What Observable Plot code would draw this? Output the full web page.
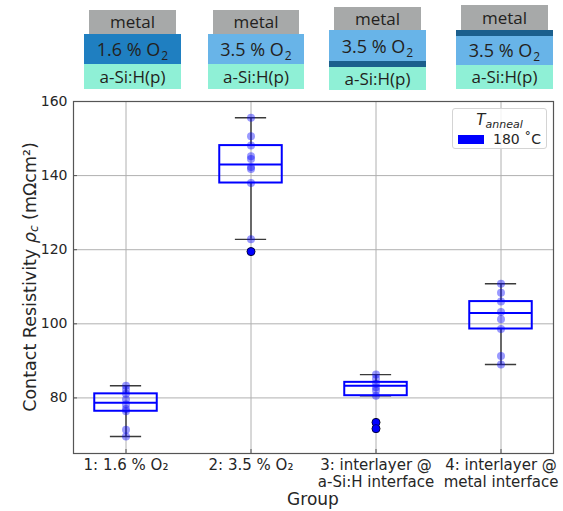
<!DOCTYPE html>
<html><head><meta charset="utf-8">
<script src="https://cdn.jsdelivr.net/npm/d3@7"></script>
<script src="https://cdn.jsdelivr.net/npm/@observablehq/plot@0.6"></script>
<style>
body{margin:0;background:#fff;}
#wrap{position:relative;width:563px;height:511px;overflow:hidden;background:#fff;}
.ly{position:absolute;box-sizing:border-box;display:flex;align-items:center;justify-content:center;font-family:"Open Sans",sans-serif;color:#231f20;font-size:17px;white-space:nowrap;}
.ly.o{font-size:18px;}
.ly sub{font-size:12px;vertical-align:-4px;line-height:0;margin-left:1px;}
#plotbox{position:absolute;left:0;top:90px;}
#legend{position:absolute;left:452px;top:108px;width:95px;height:41px;box-sizing:border-box;border:1px solid #d4d4d4;border-radius:3px;background:rgba(255,255,255,0.85);font-family:"DejaVu Sans",sans-serif;color:#262626;}
#legend .ttl{position:absolute;left:0;right:0;top:2px;text-align:center;font-style:italic;font-size:15px;}
#legend .ttl sub{font-size:11px;vertical-align:-3px;line-height:0;}
#legend .patch{position:absolute;left:5px;top:26px;width:26px;height:9px;background:#0000ff;}
#legend .lab{position:absolute;left:40px;top:22px;font-size:14px;}
</style></head>
<body>
<div id="wrap">
  <div id="schem"></div>
  <div id="plotbox"></div>
  <div id="legend"><div class="ttl">T<sub>anneal</sub></div><div class="patch"></div><div class="lab">180 &#730;C</div></div>
</div>
<script>
// ---- data ----
const groups = [1, 2, 3, 4];
const groupLabels = ["1: 1.6 % O\u2082", "2: 3.5 % O\u2082", "3: interlayer @\na-Si:H interface", "4: interlayer @\nmetal interface"];
const q1 = [76.4, 138.0, 80.6, 98.6];
const median = [78.7, 143.0, 83.3, 102.9];
const q3 = [81.1, 148.1, 84.2, 106.0];
const whiskerLow = [69.6, 122.8, 80.6, 89.0];
const whiskerHigh = [83.3, 155.6, 86.3, 110.8];
const samples1 = [83.3, 82.2, 81.1, 79.6, 78.2, 77.0, 76.4, 71.4, 69.6];
const samples2 = [155.6, 150.6, 148.1, 145.2, 144.5, 142.3, 141.8, 138.0, 122.8, 119.5];
const samples3 = [86.3, 85.2, 83.8, 82.9, 82.0, 80.6, 73.4, 71.7];
const samples4 = [110.8, 108.4, 106.0, 103.2, 101.2, 98.6, 91.3, 89.0];
const outlierGroup = [2, 3, 3];
const outlierValue = [119.5, 73.4, 71.7];
const yTicks = [80, 100, 120, 140, 160];

// ---- schematic (decoration) ----
const C = {metal:"#a7a9a9", dark:"#1f7fc1", light:"#68b4e8", band:"#1b5f8d", teal:"#8ff0d6"};
const stacks = [
  {x:84, w:97, layers:[["metal",10,33.5,C.metal,"metal"],["o",33.5,64,C.dark,"1.6 % O<sub>2</sub>"],["s",64,88.5,C.teal,"a-Si:H(p)"]]},
  {x:208, w:96, layers:[["metal",10,33.5,C.metal,"metal"],["o",33.5,64,C.light,"3.5 % O<sub>2</sub>"],["s",64,88.5,C.teal,"a-Si:H(p)"]]},
  {x:329, w:97, layers:[["metal",7,30,C.metal,"metal"],["o",30,61,C.light,"3.5 % O<sub>2</sub>"],["b",61,67,C.band,""],["s",67,89.5,C.teal,"a-Si:H(p)"]]},
  {x:456, w:97, layers:[["metal",5,29.5,C.metal,"metal"],["b",29.5,35.5,C.band,""],["o",35.5,65,C.light,"3.5 % O<sub>2</sub>"],["s",65,88.5,C.teal,"a-Si:H(p)"]]}
];
const schem = document.getElementById("schem");
for (const s of stacks) {
  for (const [k, y0, y1, col, txt] of s.layers) {
    const d = document.createElement("div");
    d.className = "ly " + k;
    const inset = k === "metal" ? 5 : 0;
    d.style.left = (s.x + inset) + "px";
    d.style.width = (s.w - 2 * inset) + "px";
    d.style.top = y0 + "px";
    d.style.height = (y1 - y0) + "px";
    d.style.background = col;
    d.innerHTML = txt ? "<span>" + txt + "</span>" : "";
    schem.appendChild(d);
  }
}

// ---- chart ----
const boxes = groups.map((g, i) => ({g, q1: q1[i], med: median[i], q3: q3[i], lo: whiskerLow[i], hi: whiskerHigh[i]}));
const points = [samples1, samples2, samples3, samples4].flatMap((arr, i) => arr.map(v => ({g: groups[i], v})));
const outliers = outlierGroup.map((g, i) => ({g, v: outlierValue[i]}));
const boxHalf = 0.25, capHalf = 0.125;
const W = 563, H = 421, mT = 11, mB = 58, mL = 73, mR = 10;

const plot = Plot.plot({
  width: W, height: H,
  marginTop: mT, marginBottom: mB, marginLeft: mL, marginRight: mR,
  style: {fontFamily: "DejaVu Sans", fontSize: "14px", color: "#262626", background: "white"},
  x: {domain: [0.58, 4.42]},
  y: {domain: [65, 160]},
  marks: [
    Plot.ruleX(groups, {x: d => d, stroke: "#b0b0b0", strokeWidth: 1}),
    Plot.ruleY(yTicks, {y: d => d, stroke: "#b0b0b0", strokeWidth: 1}),
    Plot.ruleX(boxes, {x: "g", y1: "lo", y2: "q1", stroke: "#3a3a3a", strokeWidth: 1.4}),
    Plot.ruleX(boxes, {x: "g", y1: "q3", y2: "hi", stroke: "#3a3a3a", strokeWidth: 1.4}),
    Plot.ruleY(boxes, {y: "lo", x1: d => d.g - capHalf, x2: d => d.g + capHalf, stroke: "#3a3a3a", strokeWidth: 1.4}),
    Plot.ruleY(boxes, {y: "hi", x1: d => d.g - capHalf, x2: d => d.g + capHalf, stroke: "#3a3a3a", strokeWidth: 1.4}),
    Plot.rect(boxes, {x1: d => d.g - boxHalf, x2: d => d.g + boxHalf, y1: "q1", y2: "q3", fill: "none", stroke: "#0000ff", strokeWidth: 2}),
    Plot.ruleY(boxes, {y: "med", x1: d => d.g - boxHalf, x2: d => d.g + boxHalf, stroke: "#0000ff", strokeWidth: 2}),
    Plot.dot(outliers, {x: "g", y: "v", r: 4, fill: "#0000ff", stroke: "black", strokeWidth: 1}),
    Plot.dot(points, {x: "g", y: "v", r: 4, fill: "#0000ff", fillOpacity: 0.4, stroke: "none"}),
    Plot.frame({stroke: "#555", strokeWidth: 1.2}),
    Plot.tickY(yTicks, {y: d => d, insetRight: W - mL - mR - 4, stroke: "#555"}),
    Plot.tickX(groups, {x: d => d, insetTop: H - mT - mB - 4, stroke: "#555"}),
    Plot.axisY({ticks: yTicks, tickSize: 0, tickPadding: 6, label: null}),
    Plot.axisX({ticks: groups, tickSize: 0, tickPadding: 5, fontSize: 15, tickFormat: g => groupLabels[g - 1], label: null, lineHeight: 1.12})
  ]
});
document.getElementById("plotbox").appendChild(plot);

const svg = d3.select(plot);
const cy = (mT + (H - mB)) / 2;
const t = svg.append("text")
  .attr("transform", `translate(30,${cy}) rotate(-90)`)
  .attr("text-anchor", "middle").attr("dominant-baseline", "central")
  .attr("font-family", "DejaVu Sans").attr("font-size", 17.5).attr("fill", "#262626");
t.append("tspan").text("Contact Resistivity ");
t.append("tspan").attr("font-style", "italic").text("\u03c1");
t.append("tspan").attr("font-style", "italic").attr("font-size", 12).attr("dy", 4).text("c");
t.append("tspan").attr("dy", -4).text(" (m\u03a9cm\u00b2)");
svg.append("text")
  .attr("x", mL + (W - mL - mR) / 2).attr("y", 409)
  .attr("text-anchor", "middle").attr("dominant-baseline", "central")
  .attr("font-family", "DejaVu Sans").attr("font-size", 17).attr("fill", "#262626")
  .text("Group");
</script>
</body></html>
